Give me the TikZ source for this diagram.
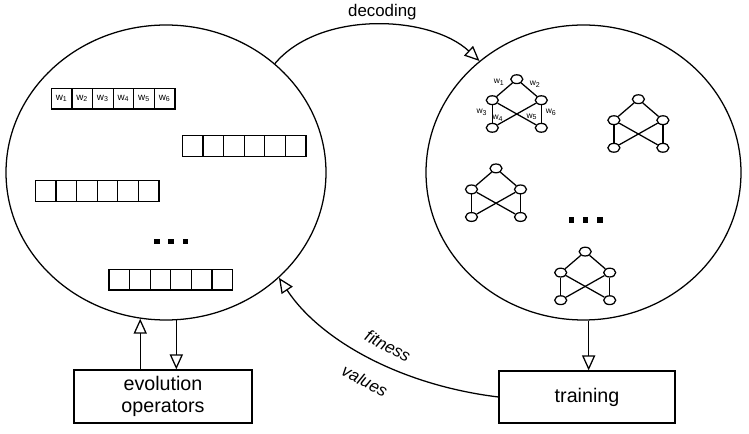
\documentclass[tikz,border=0pt]{standalone}
\usepackage{fontspec}
\setsansfont{Liberation Sans}
\usepackage{tikz}
\usetikzlibrary{shapes.geometric,arrows.meta,positioning,calc}

\begin{document}
\begin{tikzpicture}[
    line width=0.9pt,
    every node/.style={font=\sffamily},
    % populations as big ellipses
    pool/.style={
        ellipse,
        draw,
        inner sep=0pt
    },
    % process boxes below
    process/.style={
        rectangle,
        draw,
        align=center,
        font=\fontsize{14}{16}\selectfont\sffamily
    },
    gene/.style={
        rectangle,
        draw,
        minimum width=0.515cm,
        minimum height=0.515cm,
        inner sep=0pt,
        anchor=north west,
        font=\fontsize{7}{8}\selectfont\sffamily
    },
    neuron/.style={
        ellipse,
        draw,
        fill=white,
        minimum width=0.3cm,
        minimum height=0.22cm,
        inner sep=0pt
    },
    weight/.style={font=\fontsize{6}{7}\selectfont\sffamily, inner sep=0pt},
    dot/.style={rectangle, fill=black, minimum size=0.14cm, inner sep=0pt},
    flow/.style={-{Triangle[open, length=0.375cm, width=0.33cm]}},
    tag/.style={font=\fontsize{12}{14}\selectfont\sffamily},
    slanted/.style={font=\fontsize{12}{14}\selectfont\sffamily\itshape, rotate=-28, inner sep=0pt}
]
\useasboundingbox (0,0) rectangle (18.725,10.85);

% Populations
\node[pool, minimum width=8cm, minimum height=7.375cm] (pop) at (4.15,6.5375) {};
\node[pool, minimum width=7.875cm, minimum height=7.375cm] (phen) at (14.5875,6.5375) {};

% Process boxes
\node[process, minimum width=4.45cm, minimum height=1.325cm] (evo) at (4.075,0.9375) {evolution\\operators};
\node[process, minimum width=4.4cm, minimum height=1.3cm] (train) at (14.675,0.925) {training};

% Chromosomes (strings of weights)
\foreach \r/\x/\y in {1/1.2675/8.6575, 2/4.5425/7.475, 3/0.8675/6.35, 4/2.7075/4.1275} {
    \foreach \i in {1,...,6} {
        \node[gene] (c\r-\i) at ({\x+(\i-1)*0.515}, \y) {\ifnum\r=1 w\textsubscript{\i}\fi};
    }
}
\foreach \i/\x in {1/3.92, 2/4.275, 3/4.64} {
    \node[dot] (pd\i) at (\x,4.81) {};
}

% Decoded networks
\foreach \n/\x/\y in {a/12.92/8.87, b/15.96/8.37, c/12.4/6.64, d/14.63/4.56} {
    \begin{scope}[shift={(\x,\y)}]
        \node[neuron] (\n-t) at (0,0) {};
        \node[neuron] (\n-l) at (-0.6125,-0.525) {};
        \node[neuron] (\n-r) at (0.6125,-0.525) {};
        \node[neuron] (\n-bl) at (-0.6125,-1.215) {};
        \node[neuron] (\n-br) at (0.6125,-1.215) {};
        \draw (\n-t) -- (\n-l);
        \draw (\n-t) -- (\n-r);
        \draw (\n-l) -- (\n-bl);
        \draw (\n-r) -- (\n-br);
        \draw (\n-l) -- (\n-br);
        \draw (\n-r) -- (\n-bl);
    \end{scope}
}
\foreach \i/\dx/\dy in {1/-0.44/-0.07, 2/0.46/-0.12, 3/-0.87/-0.84, 4/-0.47/-0.97, 5/0.38/-0.94, 6/0.86/-0.84} {
    \node[weight] (w\i) at ($(a-t)+(\dx,\dy)$) {w\textsubscript{\i}};
}
\foreach \i/\x in {1/14.29, 2/14.64, 3/15.0} {
    \node[dot] (nd\i) at (\x,5.35) {};
}

% Connectors
\draw[flow] (pop.45) .. controls (8.0,10.6) and (10.75,10.475) .. (phen.133);
\node[tag] (dec) at (9.56,10.55) {decoding};

\draw[flow] (train.west) .. controls (10.0,1.225) and (8.0,2.35) .. (pop.317);
\node[slanted] (fit) at (9.7,2.2) {fitness};
\node[slanted] (val) at (9.12,1.33) {values};

\draw[flow] (evo.north -| pop.260) -- (pop.260);
\draw[flow] (pop.274) -- (pop.274 |- evo.north);
\draw[flow] (phen.272) -- (phen.272 |- train.north);

\end{tikzpicture}
\end{document}
